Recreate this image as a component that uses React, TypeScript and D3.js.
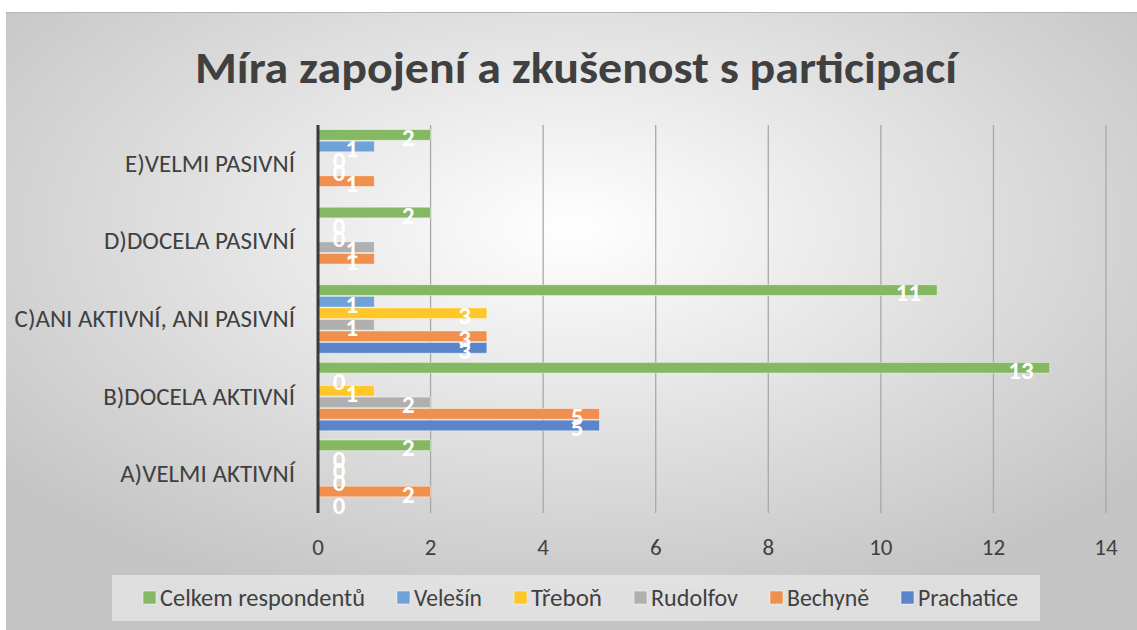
import React, { useEffect, useRef } from 'react';
import * as d3 from 'd3';

const width = 1137;
const height = 630;

const title = 'Míra zapojení a zkušenost s participací';

// bottom to top on the chart
const categories = ['A)VELMI AKTIVNÍ', 'B)DOCELA AKTIVNÍ', 'C)ANI AKTIVNÍ, ANI PASIVNÍ', 'D)DOCELA PASIVNÍ', 'E)VELMI PASIVNÍ'];

const seriesNames = ['Prachatice', 'Bechyně', 'Rudolfov', 'Třeboň', 'Velešín', 'Celkem respondentů'];
const seriesColors = ['#5b84cb', '#f0904f', '#b0b0b0', '#ffc72a', '#6fa3d8', '#84b862'];

// values per category, in categories order; null = no value
const prachatice = [0, 5, 3, null, null];
const bechyne = [2, 5, 3, 1, 1];
const rudolfov = [0, 2, 1, 1, 0];
const trebon = [0, 1, 3, 0, 0];
const velesin = [0, 0, 1, 0, 1];
const celkem = [2, 13, 11, 2, 2];

const seriesValues = [prachatice, bechyne, rudolfov, trebon, velesin, celkem];
const xTicks = [0, 2, 4, 6, 8, 10, 12, 14];

const font = "Carlito, Calibri, 'Open Sans', sans-serif";

const App = () => {
  const svgRef = useRef<SVGSVGElement>(null);

  useEffect(() => {
    const svg = d3.select(svgRef.current);
    svg.selectAll('*').remove();

    const defs = svg.append('defs');
    const grad = defs.append('radialGradient')
      .attr('id', 'bg')
      .attr('cx', '50%').attr('cy', '35%').attr('r', '65%');
    grad.append('stop').attr('offset', '0%').attr('stop-color', '#ffffff');
    grad.append('stop').attr('offset', '100%').attr('stop-color', '#c4c4c4');

    svg.append('rect')
      .attr('x', 6).attr('y', 12)
      .attr('width', width - 6).attr('height', height - 12)
      .attr('fill', 'url(#bg)');
    svg.append('line')
      .attr('x1', 6).attr('x2', width).attr('y1', 12.5).attr('y2', 12.5)
      .attr('stroke', '#b4b4b4').attr('stroke-width', 1);

    // title
    svg.append('text')
      .attr('x', 576).attr('y', 83)
      .attr('text-anchor', 'middle')
      .attr('font-family', font).attr('font-weight', 'bold')
      .attr('font-size', 45).attr('fill', '#404040')
      .attr('textLength', 762).attr('lengthAdjust', 'spacingAndGlyphs')
      .text(title);

    const x = d3.scaleLinear().domain([0, 14]).range([318, 1106]);
    const y = d3.scaleBand<string>()
      .domain([...categories].reverse())
      .range([125, 513]);
    const ySub = d3.scaleBand<string>()
      .domain([...seriesNames].reverse())
      .range([0, y.bandwidth()])
      .paddingInner(0.08)
      .paddingOuter(0.4);

    // gridlines
    svg.append('g')
      .selectAll('line')
      .data(xTicks.slice(1))
      .join('line')
      .attr('x1', d => x(d)).attr('x2', d => x(d))
      .attr('y1', 125).attr('y2', 513)
      .attr('stroke', '#a8a8a8').attr('stroke-width', 1.3);

    // tick labels
    svg.append('g')
      .selectAll('text')
      .data(xTicks)
      .join('text')
      .attr('x', d => x(d)).attr('y', 555)
      .attr('text-anchor', 'middle')
      .attr('font-family', font).attr('font-size', 23).attr('fill', '#404040')
      .text(d => d);

    // category labels
    svg.append('g')
      .selectAll('text')
      .data(categories)
      .join('text')
      .attr('x', 295)
      .attr('y', d => (y(d) as number) + y.bandwidth() / 2 + 8)
      .attr('text-anchor', 'end')
      .attr('font-family', font).attr('font-size', 25).attr('fill', '#404040')
      .text(d => d);

    // bars
    const bars = svg.append('g');
    seriesNames.forEach((name, si) => {
      const rows = categories
        .map((c, ci) => ({ c, v: seriesValues[si][ci] }))
        .filter(d => d.v !== null) as { c: string; v: number }[];
      bars.append('g')
        .selectAll('rect')
        .data(rows)
        .join('rect')
        .attr('x', x(0))
        .attr('y', d => (y(d.c) as number) + (ySub(name) as number))
        .attr('width', d => x(d.v) - x(0))
        .attr('height', ySub.bandwidth())
        .attr('fill', seriesColors[si])
        .attr('stroke', 'rgba(255,255,255,0.5)')
        .attr('stroke-width', 0.8);
    });

    // data labels
    const labels = svg.append('g');
    seriesNames.forEach((name, si) => {
      const rows = categories
        .map((c, ci) => ({ c, v: seriesValues[si][ci] }))
        .filter(d => d.v !== null) as { c: string; v: number }[];
      labels.append('g')
        .selectAll('text')
        .data(rows)
        .join('text')
        .attr('x', d => (d.v === 0 ? x(0) + 21 : x(d.v) - 16))
        .attr('y', d => (y(d.c) as number) + (ySub(name) as number) + ySub.bandwidth() / 2 + 11)
        .attr('text-anchor', d => (d.v === 0 ? 'middle' : 'end'))
        .attr('font-family', font).attr('font-size', 25).attr('font-weight', 600)
        .attr('fill', '#ffffff')
        .text(d => d.v);
    });

    // axis line
    svg.append('line')
      .attr('x1', x(0)).attr('x2', x(0))
      .attr('y1', 125).attr('y2', 513)
      .attr('stroke', '#3a3a3a').attr('stroke-width', 3);

    // legend (text widths follow the reference layout)
    const legend = svg.append('g');
    legend.append('rect')
      .attr('x', 112).attr('y', 575).attr('width', 928).attr('height', 46)
      .attr('fill', 'rgba(240,240,240,0.6)');
    const order = [...seriesNames.keys()].reverse();
    const legendTextWidths = [205, 68, 71, 87, 82, 100];
    let lx = 143;
    order.forEach((si, i) => {
      legend.append('rect')
        .attr('x', lx).attr('y', 591).attr('width', 13).attr('height', 13)
        .attr('fill', seriesColors[si])
        .attr('stroke', 'rgba(255,255,255,0.6)').attr('stroke-width', 0.8);
      legend.append('text')
        .attr('x', lx + 17).attr('y', 606)
        .attr('font-family', font).attr('font-size', 24).attr('fill', '#404040')
        .attr('textLength', legendTextWidths[i]).attr('lengthAdjust', 'spacingAndGlyphs')
        .text(seriesNames[si]);
      lx += 17 + legendTextWidths[i] + 32;
    });
  }, []);

  return (
    <svg
      ref={svgRef}
      width={width}
      height={height}
      style={{ position: 'absolute', left: 0, top: 0, background: '#ffffff' }}
    />
  );
};

export default App;
